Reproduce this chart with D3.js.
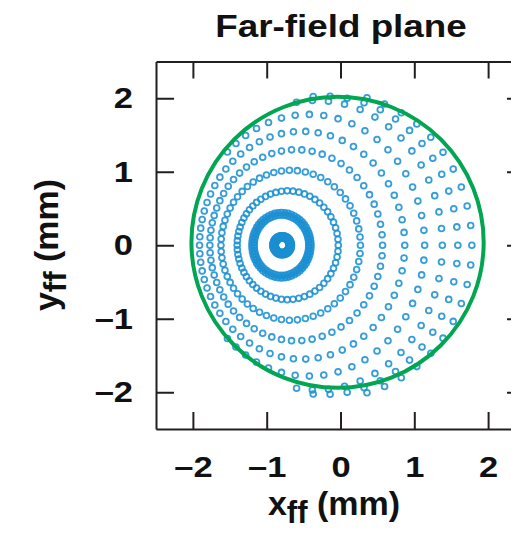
<!DOCTYPE html>
<html>
<head>
<meta charset="utf-8">
<script src="https://cdn.jsdelivr.net/npm/d3@7"></script>
<style>
body { margin: 0; background: #fff; }
text { font-family: "Liberation Sans", Arial, sans-serif; font-weight: bold; fill: #111; }
</style>
</head>
<body>
<svg></svg>
<script>
let xTicks = [-2, -1, 0, 1, 2]
let yTicks = [-2, -1, 0, 1, 2]

// spot rings (mm): centre, horizontal and vertical half-width
let ringCx = [-0.79, -0.79, -0.80, -0.80, -0.715, -0.675, -0.60, -0.52, -0.43, -0.33, -0.22, -0.10]
let ringCy = [0, 0, 0, 0, 0, 0, 0, 0, 0, 0, 0, 0]
let ringRx = [0.095, 0.125, 0.37, 0.40, 0.685, 0.945, 1.17, 1.39, 1.57, 1.71, 1.81, 1.88]
let ringRy = [0.10, 0.13, 0.41, 0.445, 0.74, 1.02, 1.30, 1.55, 1.78, 1.97, 2.03, 2.07]
let raysPerRing = 60
let fanX = -0.8   // rays of each ring fan out from the central spot
let fanY = 0

// dots only survive inside this aperture (mm)
let apertureCx = -0.05
let apertureCy = 0
let apertureRx = 1.89
let apertureRy = 2.06

// green field circle (mm)
let fieldCx = -0.04
let fieldCy = 0.04
let fieldR = 1.98

let width = 511
let height = 536

let svg = d3.select('svg')
    .attr('width', width)
    .attr('height', height)

let xScale = d3.scaleLinear().domain([-2.5, 2.5]).range([156, 525])
let yScale = d3.scaleLinear().domain([-2.5, 2.5]).range([429, 61.5])

// build the spot points ring by ring
let spots = []
ringCx.forEach((cx, k) => {
    let a = ringRx[k], b = ringRy[k], cy = ringCy[k]
    let dx = fanX - cx, dy = fanY - cy
    for (let j = 0; j < raysPerRing; j++) {
        let phi = 2 * Math.PI * j / raysPerRing
        let c = Math.cos(phi), s = Math.sin(phi)
        let A = c * c / (a * a) + s * s / (b * b)
        let B = 2 * (dx * c / (a * a) + dy * s / (b * b))
        let C = dx * dx / (a * a) + dy * dy / (b * b) - 1
        let t = (-B + Math.sqrt(B * B - 4 * A * C)) / (2 * A)
        let px = fanX + t * c, py = fanY + t * s
        let e = ((px - apertureCx) / apertureRx) ** 2 + ((py - apertureCy) / apertureRy) ** 2
        if (e <= 1) spots.push([px, py])
    }
})

svg.append('g')
    .selectAll('circle')
    .data(spots)
    .enter()
    .append('circle')
    .attr('cx', d => xScale(d[0]))
    .attr('cy', d => yScale(d[1]))
    .attr('r', 2.9)
    .attr('fill', 'none')
    .attr('stroke', '#1a8fd3')
    .attr('stroke-opacity', 0.88)
    .attr('stroke-width', 1.8)

svg.append('ellipse')
    .attr('cx', xScale(fieldCx))
    .attr('cy', yScale(fieldCy))
    .attr('rx', xScale(fieldCx + fieldR) - xScale(fieldCx))
    .attr('ry', yScale(fieldCy) - yScale(fieldCy + fieldR))
    .attr('fill', 'none')
    .attr('stroke', '#00a651')
    .attr('stroke-width', 4)

let fmt = d => d < 0 ? '\u2013' + (-d) : String(d)

let styleAxis = g => {
    g.select('.domain').attr('stroke', '#231f20').attr('stroke-width', 2)
    g.selectAll('.tick line').attr('stroke', '#231f20').attr('stroke-width', 2)
    g.selectAll('text').style('font-size', '30px').attr('fill', '#111')
}

svg.append('g')
    .attr('transform', 'translate(0,' + yScale(-2.5) + ')')
    .call(d3.axisBottom(xScale).tickValues(xTicks).tickFormat(fmt).tickSizeInner(-17).tickSizeOuter(0).tickPadding(27))
    .call(styleAxis)
    .call(g => g.selectAll('.tick text').attr('transform', 'scale(1.15,1)'))

svg.append('g')
    .attr('transform', 'translate(0,' + yScale(2.5) + ')')
    .call(d3.axisTop(xScale).tickValues(xTicks).tickFormat('').tickSizeInner(-17).tickSizeOuter(0))
    .call(styleAxis)

svg.append('g')
    .attr('transform', 'translate(' + xScale(-2.5) + ',0)')
    .call(d3.axisLeft(yScale).tickValues(yTicks).tickFormat(fmt).tickSizeInner(-18).tickSizeOuter(0).tickPadding(20))
    .call(styleAxis)
    .call(g => g.selectAll('.tick text').attr('transform', 'scale(1.15,1)'))

svg.append('g')
    .attr('transform', 'translate(' + xScale(2.5) + ',0)')
    .call(d3.axisRight(yScale).tickValues(yTicks).tickFormat('').tickSizeInner(-18).tickSizeOuter(0))
    .call(styleAxis)

svg.append('text')
    .attr('transform', 'translate(341,37) scale(1.15,1)')
    .attr('text-anchor', 'middle')
    .style('font-size', '32px')
    .text('Far-field plane')

let xLabel = svg.append('text')
    .attr('x', 334)
    .attr('y', 515)
    .attr('text-anchor', 'middle')
    .style('font-size', '34px')
xLabel.append('tspan').text('x')
xLabel.append('tspan').attr('dy', 8).style('font-size', '31px').text('ff')
xLabel.append('tspan').attr('dy', -8).text(' (mm)')

let yLabel = svg.append('text')
    .attr('transform', 'translate(58,245) rotate(-90)')
    .attr('text-anchor', 'middle')
    .style('font-size', '34px')
yLabel.append('tspan').text('y')
yLabel.append('tspan').attr('dy', 8).style('font-size', '31px').text('ff')
yLabel.append('tspan').attr('dy', -8).text(' (mm)')
</script>
</body>
</html>
